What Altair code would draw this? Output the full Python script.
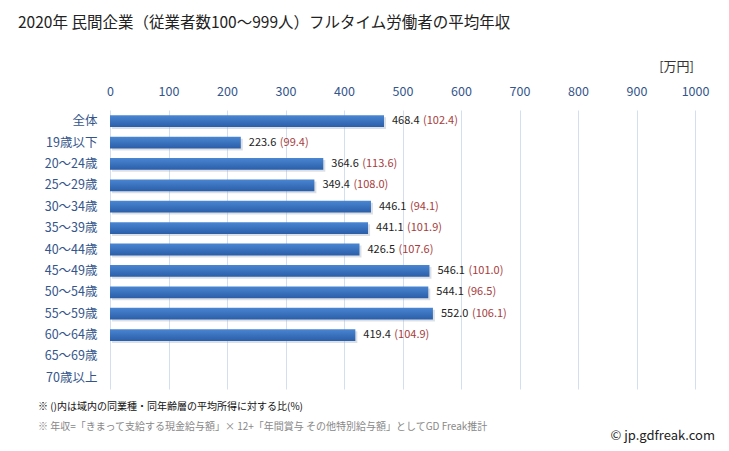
import altair as alt
import pandas as pd

categories = ["全体", "19歳以下", "20～24歳", "25～29歳", "30～34歳", "35～39歳", "40～44歳",
              "45～49歳", "50～54歳", "55～59歳", "60～64歳", "65～69歳", "70歳以上"]
values = [468.4, 223.6, 364.6, 349.4, 446.1, 441.1, 426.5, 546.1, 544.1, 552.0, 419.4, None, None]
ratios = [102.4, 99.4, 113.6, 108.0, 94.1, 101.9, 107.6, 101.0, 96.5, 106.1, 104.9, None, None]
x_ticks = [0, 100, 200, 300, 400, 500, 600, 700, 800, 900, 1000]

title_text = "2020年 民間企業（従業者数100～999人）フルタイム労働者の平均年収"
unit_text = "[万円]"
note1 = "※ ()内は域内の同業種・同年齢層の平均所得に対する比(%)"
note2 = "※ 年収=「きまって支給する現金給与額」× 12+「年間賞与 その他特別給与額」としてGD Freak推計"
credit = "© jp.gdfreak.com"

FONT = "Noto Sans CJK JP"
df = pd.DataFrame({"cat": categories, "value": values, "ratio": ratios})

W, H = 585, 279
PL, PT = 102, 102

yscale = alt.Scale(domain=categories, paddingInner=0.45, paddingOuter=0.25)
yaxis = alt.Axis(title=None, ticks=False, domain=False, labelFontSize=12.5,
                 labelColor="#34558b", labelPadding=13, labelFont=FONT, grid=False)
xscale = alt.Scale(domain=[0, 1000], nice=False)
xaxis = alt.Axis(orient="top", values=x_ticks, format="d", title=None, ticks=False, domain=False,
                 labelFontSize=12.5, labelColor="#34558b", labelPadding=12, labelFlush=False,
                 labelFont=FONT, grid=True, gridColor="#d3dfee", gridWidth=1)

yenc = alt.Y("cat:N", sort=categories, scale=yscale, axis=yaxis)
xenc = alt.X("value:Q", scale=xscale, axis=xaxis)

full = alt.Chart(df)
base = full.transform_filter("isValid(datum.value)")

axes_layer = full.mark_bar(opacity=0).encode(x=alt.X("value:Q", scale=xscale, axis=xaxis), y=yenc)

shadow = base.mark_bar(color="#9aa6b4", opacity=0.35, xOffset=2, yOffset=2).encode(
    x=xenc, y=yenc)

bars = base.mark_bar(
    color=alt.Gradient(gradient="linear", x1=0, y1=0, x2=0, y2=1,
                       stops=[alt.GradientStop(color="#4a86d2", offset=0),
                              alt.GradientStop(color="#2b5ea9", offset=1)])
).encode(x=xenc, y=yenc)

vtext = base.mark_text(align="left", baseline="middle", dx=8, fontSize=11, color="#222222",
                       font=FONT).encode(
    x=xenc, y=yenc, text=alt.Text("value:Q", format=".1f"))

rtext = base.transform_calculate(rl="'(' + format(datum.ratio, '.1f') + ')'").mark_text(
    align="left", baseline="middle", dx=39, fontSize=11, color="#a63c3c", font=FONT).encode(
    x=xenc, y=yenc, text="rl:N")


def label(txt, x, y, size, color, align="left"):
    return alt.Chart(pd.DataFrame({"t": [txt]})).mark_text(
        align=align, baseline="middle", fontSize=size, color=color, font=FONT).encode(
        x=alt.value(x), y=alt.value(y), text="t:N")


chart = alt.layer(
    axes_layer, shadow, bars, vtext, rtext,
    label(title_text, -92, -87, 15.5, "#222222"),
    label(unit_text, 584, -43, 13, "#333333", "right"),
    label(note1, -72, 297, 10, "#111111"),
    label(note2, -72, 317, 10, "#888888"),
    label(credit, 605, 326, 13, "#222222", "right"),
).properties(
    width=W, height=H,
    autosize=alt.AutoSizeParams(type="none"),
    padding={"left": PL, "top": PT, "right": 713 - PL - W, "bottom": 435 - PT - H},
    background="white",
).configure_view(stroke=None)

chart.save("out.html", embed_options={"renderer": "svg", "actions": False})
